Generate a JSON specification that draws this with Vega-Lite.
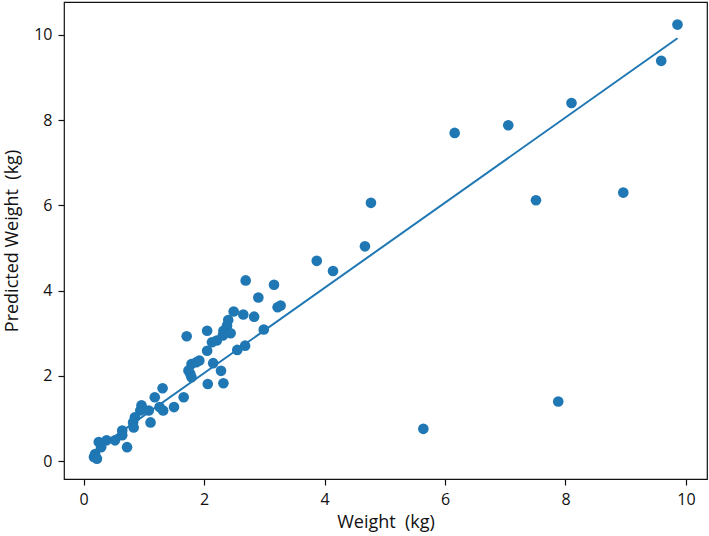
{
  "$schema": "https://vega.github.io/schema/vega-lite/v6.json",
  "width": 643,
  "height": 477,
  "autosize": {"type": "none"},
  "padding": {"left": 64, "top": 2, "right": 2, "bottom": 57},
  "background": "white",
  "config": {
    "view": {"stroke": "#111111", "strokeWidth": 1.2},
    "font": "Open Sans",
    "axis": {
      "grid": false,
      "domain": false,
      "tickColor": "#111111",
      "tickSize": 6,
      "tickWidth": 1.2,
      "labelFont": "Open Sans",
      "labelFontSize": 16,
      "labelColor": "#111111",
      "labelPadding": 6,
      "titleFont": "Open Sans",
      "titleFontSize": 18,
      "titleFontWeight": "normal",
      "titleColor": "#111111"
    }
  },
  "datasets": {
    "points": [
      {"w": 2.69, "p": 4.24}, {"w": 3.16, "p": 4.14}, {"w": 2.90, "p": 3.84}, {"w": 3.22, "p": 3.61},
      {"w": 3.27, "p": 3.65}, {"w": 2.49, "p": 3.51}, {"w": 2.65, "p": 3.44}, {"w": 2.83, "p": 3.39},
      {"w": 2.40, "p": 3.31}, {"w": 2.38, "p": 3.18}, {"w": 2.99, "p": 3.09}, {"w": 1.71, "p": 2.93},
      {"w": 2.05, "p": 3.06}, {"w": 2.32, "p": 3.06}, {"w": 2.44, "p": 3.00}, {"w": 2.31, "p": 2.95},
      {"w": 2.21, "p": 2.83}, {"w": 2.13, "p": 2.79}, {"w": 2.68, "p": 2.71}, {"w": 2.55, "p": 2.61},
      {"w": 2.05, "p": 2.59}, {"w": 1.92, "p": 2.36}, {"w": 1.87, "p": 2.32}, {"w": 1.79, "p": 2.28},
      {"w": 2.15, "p": 2.30}, {"w": 1.74, "p": 2.13}, {"w": 1.77, "p": 2.05}, {"w": 1.79, "p": 1.97},
      {"w": 2.28, "p": 2.12}, {"w": 2.06, "p": 1.81}, {"w": 2.32, "p": 1.83}, {"w": 1.66, "p": 1.50},
      {"w": 1.31, "p": 1.71}, {"w": 1.18, "p": 1.50}, {"w": 1.50, "p": 1.27}, {"w": 1.32, "p": 1.19},
      {"w": 1.26, "p": 1.27}, {"w": 1.08, "p": 1.19}, {"w": 0.96, "p": 1.31}, {"w": 0.94, "p": 1.19},
      {"w": 1.11, "p": 0.91}, {"w": 0.85, "p": 1.03}, {"w": 0.82, "p": 0.91}, {"w": 0.83, "p": 0.79},
      {"w": 0.64, "p": 0.72}, {"w": 0.64, "p": 0.61}, {"w": 0.52, "p": 0.49}, {"w": 0.72, "p": 0.33},
      {"w": 0.38, "p": 0.49}, {"w": 0.25, "p": 0.45}, {"w": 0.29, "p": 0.33}, {"w": 0.19, "p": 0.17},
      {"w": 0.17, "p": 0.10}, {"w": 0.22, "p": 0.06},
      {"w": 9.86, "p": 10.24}, {"w": 9.59, "p": 9.39}, {"w": 8.10, "p": 8.40}, {"w": 7.05, "p": 7.88},
      {"w": 6.16, "p": 7.70}, {"w": 4.77, "p": 6.06}, {"w": 7.51, "p": 6.12}, {"w": 8.96, "p": 6.30},
      {"w": 4.67, "p": 5.04}, {"w": 3.87, "p": 4.70}, {"w": 4.14, "p": 4.46}, {"w": 7.88, "p": 1.40},
      {"w": 5.64, "p": 0.76}
    ],
    "line": [
      {"w": 0.15, "p": 0.22},
      {"w": 9.86, "p": 9.92}
    ]
  },
  "layer": [
    {
      "data": {"name": "points"},
      "mark": {"type": "circle", "size": 113, "color": "#1f77b4", "opacity": 1},
      "encoding": {
        "x": {"field": "w", "type": "quantitative", "scale": {"domain": [-0.327, 10.35], "nice": false, "zero": false}, "axis": {"values": [0, 2, 4, 6, 8, 10], "format": "d", "title": "Weight\u00a0\u00a0(kg)", "titlePadding": 6}},
        "y": {"field": "p", "type": "quantitative", "scale": {"domain": [-0.417, 10.77], "nice": false, "zero": false}, "axis": {"values": [0, 2, 4, 6, 8, 10], "format": "d", "title": "Predicted Weight\u00a0\u00a0(kg)", "titlePadding": 12}}
      }
    },
    {
      "data": {"name": "line"},
      "mark": {"type": "line", "color": "#1f77b4", "strokeWidth": 2},
      "encoding": {
        "x": {"field": "w", "type": "quantitative"},
        "y": {"field": "p", "type": "quantitative"}
      }
    }
  ]
}
